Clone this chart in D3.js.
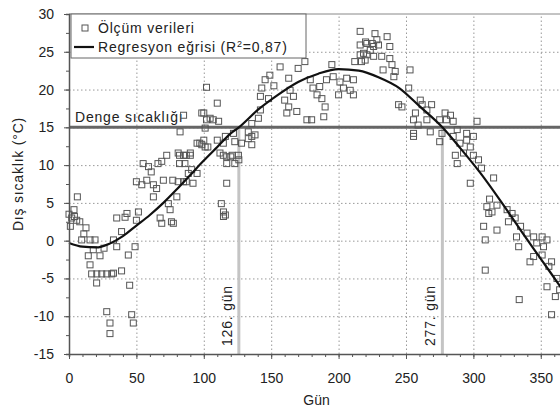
<!DOCTYPE html>
<html>
<head>
<meta charset="utf-8">
<script src="https://cdn.jsdelivr.net/npm/d3@7"></script>
<style>
    body { margin: 0; background: #fff; }
    text { font-family: "Liberation Sans", Arial, sans-serif; fill: #222; }
    .grid line { stroke: #999; stroke-dasharray: 1.5, 2.5; }
    .grid path { display: none; }
    .axis path, .axis line { stroke: #555; }
</style>
</head>
<body>
<div id="chart"></div>
<script>
// measured data: day of year, outdoor temperature
var obsDays = [0, 1, 2, 3.7, 4, 5.7, 6.2, 8, 9.4, 11, 12.6, 14.3, 15.6, 15.6, 16.8, 18, 19.3, 20.5, 20.6, 23,
    24.3, 26, 28, 28, 30.4, 30.4, 31.7, 33, 33, 35.4, 35.4, 39, 39, 41.6, 43, 44, 45, 46.5, 47.7, 49,
    50, 50, 51.5, 54, 55, 57.7, 59, 61, 62.6, 62.6, 65, 66, 67.6, 68.8, 68.8, 70, 72.5, 73.7, 75, 76,
    77, 77.4, 80, 81, 81, 82, 82, 82.4, 85, 85, 85, 86, 87, 87, 88.5, 90, 90, 91, 92, 95,
    95, 97, 98.5, 98.5, 100, 100, 101, 101, 102, 102, 103, 104.7, 107, 110, 110, 111, 112, 113, 114.5, 114.5,
    114.6, 114.6, 116, 116, 117, 117, 117, 120, 121, 122, 123, 123, 125.7, 126, 128, 133, 133, 135.6, 135.6, 135.6,
    138, 140.5, 142, 142, 143, 145.5, 148, 149, 152, 156.6, 160, 161.6, 163, 163, 164, 166.5, 169, 170, 175, 176.5,
    179, 180, 181, 184, 186, 187.6, 189, 190, 191, 195, 196, 200, 201, 203.6, 206, 208.6, 211, 211, 212, 216,
    216, 216, 217, 218.5, 219.7, 220, 221, 221, 223.5, 225, 226, 226, 227, 228.4, 229.6, 232, 233, 236, 238, 238,
    239.6, 241, 242, 244.5, 247, 252, 253, 255.6, 255.6, 255.6, 257, 259, 260.6, 262, 265.5, 265.5, 268, 269, 275, 275,
    276.7, 279, 280, 283, 285, 285, 286.6, 288, 288, 290, 292.7, 295, 295, 297.7, 297.7, 300, 300, 302.7, 303.8, 306,
    307.6, 308.8, 308.8, 310, 311.4, 312, 313.8, 315, 317.5, 317.5, 325, 326, 328.7, 331, 332, 333.6, 334, 335, 339.8, 342,
    344.7, 344.7, 347, 351, 351, 352, 354.6, 354.6, 356, 358, 358, 360.8, 362, 364];
var obsTemps = [3.5, 1.9, 3.0, 4.1, 3.2, 2.7, 5.8, 2.5, 0.1, 0.9, 1.7, -2.0, 0.1, -3.2, -4.4, -1.2, 0.1, -5.6, -4.4, -2.0,
    -4.4, -1.0, -4.4, -9.4, -10.9, -12.3, -4.4, 0.1, -4.3, 3.0, -0.8, 1.2, -4.0, 3.1, 3.6, -1.9, -5.9, -9.8, -10.9, -0.8,
    2.7, 7.8, 3.8, 7.4, 10.2, 8.0, 9.8, 9.1, 5.8, 7.4, 6.9, 10.2, 3.0, 2.3, 10.5, 8.0, 11.3, 4.9, 4.1, 2.5,
    8.0, 2.3, 5.8, 11.6, 7.8, 11.3, 10.2, 14.4, 16.6, 11.3, 7.8, 10.2, 11.3, 7.8, 8.9, 11.3, 11.6, 9.4, 7.6, 12.9,
    8.9, 12.9, 16.9, 12.7, 13.3, 16.9, 12.4, 14.9, 16.0, 20.3, 12.4, 16.2, 16.0, 18.2, 13.3, 15.8, 11.6, 4.9, 12.9, 11.3,
    3.8, 3.2, 3.4, 13.8, 10.2, 7.6, 11.1, 11.1, 11.3, 14.2, 13.1, 10.2, 11.3, 10.7, 12.9, 13.5, 14.4, 12.7, 15.5, 13.8,
    14.0, 16.2, 17.3, 19.1, 20.2, 21.3, 18.8, 21.9, 20.5, 23.0, 18.6, 16.9, 21.5, 17.7, 19.9, 19.1, 17.1, 22.8, 23.7, 16.0,
    21.3, 16.0, 20.2, 19.3, 20.4, 18.8, 16.4, 17.7, 21.3, 23.3, 21.7, 19.3, 21.0, 20.2, 21.5, 19.9, 21.3, 19.3, 23.7, 27.7,
    25.9, 24.6, 23.7, 24.8, 23.9, 26.3, 26.1, 24.6, 25.2, 26.1, 25.7, 24.4, 27.4, 26.6, 25.9, 24.4, 22.6, 27.0, 25.7, 24.1,
    23.3, 21.7, 22.4, 18.0, 17.7, 20.2, 22.6, 16.0, 14.2, 13.8, 16.9, 15.3, 18.6, 18.0, 17.3, 16.0, 14.4, 18.0, 16.0, 13.1,
    14.2, 16.9, 16.0, 16.6, 15.8, 13.8, 11.3, 14.7, 10.2, 12.9, 11.6, 14.2, 13.3, 12.4, 7.6, 13.8, 11.3, 15.8, 10.7, 9.6,
    1.9, 0.1, -3.9, 4.5, 3.6, 5.5, 3.8, 8.3, 4.7, 1.4, 4.1, 2.5, 3.6, 3.0, 0.5, -0.8, -7.8, 1.9, 1.0, -2.8,
    0.5, -2.1, -0.3, 0.5, -1.9, -0.8, 0.1, -6.1, -3.4, -2.8, -9.8, -7.4, -5.0, -6.5];

// regression curve
var fitDays = [0, 10, 20, 30, 40, 50, 60, 70, 80, 90, 100, 110, 120, 126, 140, 155, 170, 185, 200, 215,
    230, 245, 260, 277, 290, 305, 320, 335, 350, 365];
var fitTemps = [-0.3, -0.8, -0.9, -0.4, 0.6, 2.0, 3.4, 5.0, 6.8, 8.7, 10.6, 12.4, 14.2, 15.0, 17.3, 19.3, 21.0, 22.1, 22.7, 22.5,
    21.6, 20.2, 17.8, 15.0, 12.3, 9.0, 5.3, 1.4, -2.4, -6.2];

var balanceTemp = 15;
var crossDays = [126, 277];
var crossLabels = ["126. gün", "277. gün"];
var xTicks = [0, 50, 100, 150, 200, 250, 300, 350];
var yTicks = [-15, -10, -5, 0, 5, 10, 15, 20, 25, 30];

var width = 560, height = 412;
var margin = { top: 14, right: -1, bottom: 58, left: 69 };

var svg = d3.select("#chart")
    .append("svg")
    .attr("width", width)
    .attr("height", height);

var x = d3.scaleLinear()
    .domain([0, 365])
    .range([margin.left, width - margin.right]);

var y = d3.scaleLinear()
    .domain([-15, 30])
    .range([height - margin.bottom, margin.top]);

// gridlines
svg.append("g")
    .attr("class", "grid")
    .attr("transform", "translate(0," + y(-15) + ")")
    .call(d3.axisBottom(x).tickValues(xTicks.slice(1)).tickSize(-(y(-15) - y(30))).tickFormat(""));

svg.append("g")
    .attr("class", "grid")
    .attr("transform", "translate(" + x(0) + ",0)")
    .call(d3.axisLeft(y).tickValues(yTicks.slice(1, -1)).tickSize(-(x(365) - x(0))).tickFormat(""));

// top border
svg.append("line")
    .attr("x1", x(0)).attr("x2", x(365))
    .attr("y1", y(30)).attr("y2", y(30))
    .style("stroke", "#888");

// vertical lines at crossing days
svg.append("g")
    .selectAll("line")
    .data(crossDays)
    .enter()
    .append("line")
    .attr("x1", function (d) { return x(d); })
    .attr("x2", function (d) { return x(d); })
    .attr("y1", y(balanceTemp))
    .attr("y2", y(-15))
    .style("stroke", "#c4c4c4")
    .style("stroke-width", 3);

svg.append("g")
    .selectAll("text")
    .data(crossDays)
    .enter()
    .append("text")
    .attr("transform", function (d) { return "translate(" + (x(d) - 7) + "," + (y(-15) - 8) + ") rotate(-90)"; })
    .style("font-size", "14px")
    .style("letter-spacing", "0.8px")
    .text(function (d, i) { return crossLabels[i]; });

// balance temperature line
svg.append("line")
    .attr("x1", x(0)).attr("x2", x(365))
    .attr("y1", y(balanceTemp)).attr("y2", y(balanceTemp))
    .style("stroke", "#666")
    .style("stroke-width", 3);

svg.append("text")
    .attr("x", x(0) + 6)
    .attr("y", y(balanceTemp) - 5)
    .style("font-size", "14px")
    .style("letter-spacing", "0.8px")
    .text("Denge sıcaklığı");

// measured points
svg.append("g")
    .selectAll("rect")
    .data(obsDays)
    .enter()
    .append("rect")
    .attr("x", function (d) { return x(d) - 3; })
    .attr("y", function (d, i) { return y(obsTemps[i]) - 3; })
    .attr("width", 6)
    .attr("height", 6)
    .style("fill", "none")
    .style("stroke", "#555")
    .style("stroke-width", 1);

// regression curve
svg.append("path")
    .datum(fitDays)
    .attr("d", d3.line()
        .curve(d3.curveMonotoneX)
        .x(function (d) { return x(d); })
        .y(function (d, i) { return y(fitTemps[i]); }))
    .style("fill", "none")
    .style("stroke", "#111")
    .style("stroke-width", 2.2);

// axes
var xAxis = svg.append("g")
    .attr("class", "axis")
    .attr("transform", "translate(0," + y(-15) + ")");
xAxis.call(d3.axisBottom(x).tickValues(d3.range(0, 366, 10)).tickSize(3).tickFormat(""));
xAxis.append("g")
    .call(d3.axisBottom(x).tickValues(xTicks).tickSize(5).tickPadding(14).tickFormat(function (d) { return String(d); }))
    .call(function (g) { g.select(".domain").remove(); })
    .selectAll("text")
    .style("font-size", "14px")
    .style("fill", "#222");
xAxis.select(".domain").style("stroke-width", 1.5);

var yAxis = svg.append("g")
    .attr("class", "axis")
    .attr("transform", "translate(" + x(0) + ",0)");
yAxis.call(d3.axisLeft(y).tickValues(d3.range(-15, 30.1, 2.5)).tickSize(3).tickFormat(""));
yAxis.append("g")
    .call(d3.axisLeft(y).tickValues(yTicks).tickSize(5).tickPadding(10).tickFormat(function (d) { return String(d); }))
    .call(function (g) { g.select(".domain").remove(); })
    .selectAll("text")
    .style("font-size", "14px")
    .style("fill", "#222");
yAxis.select(".domain").style("stroke-width", 1.5);

svg.append("text")
    .attr("x", (x(0) + width) / 2 + 2)
    .attr("y", 405)
    .attr("text-anchor", "middle")
    .style("font-size", "14px")
    .text("Gün");

svg.append("text")
    .attr("transform", "translate(23,174) rotate(-90)")
    .attr("text-anchor", "middle")
    .style("font-size", "14px")
    .style("letter-spacing", "0.8px")
    .text("Dış sıcaklık (°C)");

// legend
var legend = svg.append("g");
legend.append("rect")
    .attr("x", 71).attr("y", y(30))
    .attr("width", 235).attr("height", 44)
    .style("fill", "#fff")
    .style("stroke", "#666");
legend.append("rect")
    .attr("x", 82).attr("y", 25)
    .attr("width", 6).attr("height", 6)
    .style("fill", "none")
    .style("stroke", "#555");
legend.append("text")
    .attr("x", 98).attr("y", 33)
    .style("font-size", "14px")
    .style("letter-spacing", "0.8px")
    .text("Ölçüm verileri");
legend.append("line")
    .attr("x1", 74).attr("x2", 94)
    .attr("y1", 47).attr("y2", 47)
    .style("stroke", "#111")
    .style("stroke-width", 2.2);
var regText = legend.append("text")
    .attr("x", 98).attr("y", 52)
    .style("font-size", "14px")
    .style("letter-spacing", "0.8px");
regText.append("tspan").text("Regresyon eğrisi (R");
regText.append("tspan").attr("dy", -5).style("font-size", "9px").text("2");
regText.append("tspan").attr("dy", 5).text("=0,87)");
</script>
</body>
</html>
